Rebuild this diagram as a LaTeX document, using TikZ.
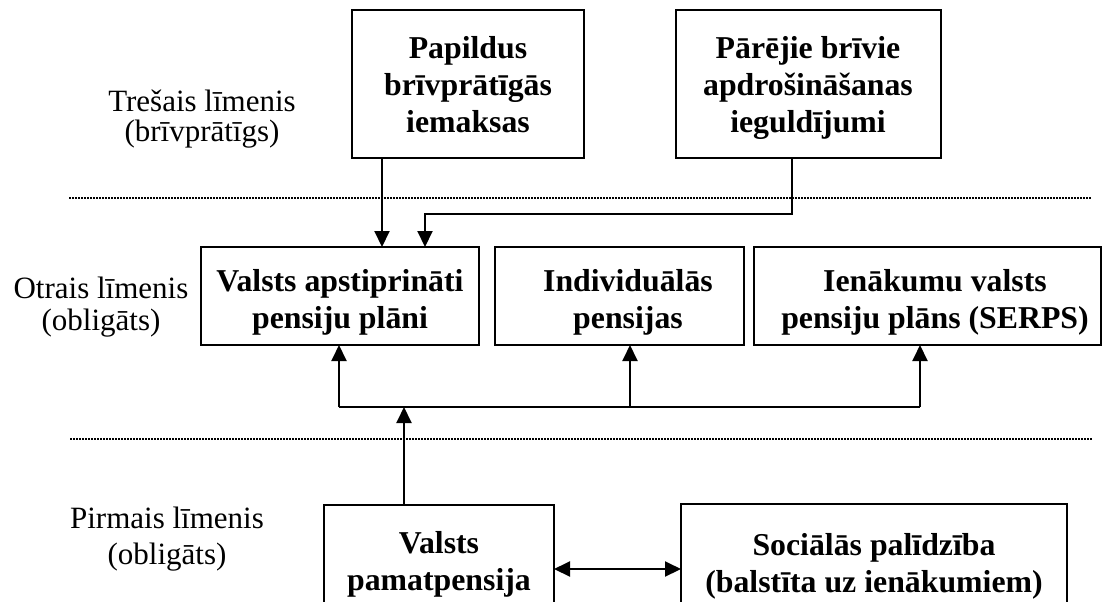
\documentclass[tikz,border=0pt]{standalone}
\usepackage{fontspec}
\setmainfont{Liberation Serif}
\usetikzlibrary{arrows.meta,fit}
\begin{document}
\begin{tikzpicture}[x=0.5pt,y=-0.5pt,
  box/.style={draw, line width=1pt, inner sep=0pt, outer sep=0pt},
  bt/.style={font=\fontsize{15.9}{18}\selectfont\bfseries, anchor=base, inner sep=0pt},
  lt/.style={font=\fontsize{15.5}{18}\selectfont, anchor=base, inner sep=0pt},
  con/.style={line width=1pt},
  arr/.style={con, -{Triangle[width=7.5pt,length=8pt]}},
  darr/.style={con, {Triangle[width=7.5pt,length=8pt]}-{Triangle[width=7.5pt,length=8pt]}},
  sep/.style={line width=0.75pt, dash pattern=on 0.75pt off 0.75pt}]
\useasboundingbox (0,0) rectangle (1103,601);
\clip (0,0) rectangle (1103,601);

% level separators
\coordinate (s1a) at (69,198);  \coordinate (s1b) at (1092,198);
\coordinate (s2a) at (70,439);  \coordinate (s2b) at (1092,439);
\draw[sep] (s1a) -- (s1b);
\draw[sep] (s2a) -- (s2b);

% level captions
\node[lt] (l3a) at (202,111) {Trešais līmenis};
\node[lt] (l3b) at (202,141) {(brīvprātīgs)};
\node[lt] (l2a) at (101,298) {Otrais līmenis};
\node[lt] (l2b) at (101,330) {(obligāts)};
\node[lt] (l1a) at (167,528) {Pirmais līmenis};
\node[lt] (l1b) at (167,564) {(obligāts)};

% third level
\node[box, fit={(352,10) (584,158)}] (pap) {};
\node[bt] (pap1) at (468,58)  {Papildus};
\node[bt] (pap2) at (468,95)  {brīvprātīgās};
\node[bt] (pap3) at (468,132) {iemaksas};

\node[box, fit={(676,10) (941,158)}] (par) {};
\node[bt] (par1) at (808,58)  {Pārējie brīvie};
\node[bt] (par2) at (808,95)  {apdrošināšanas};
\node[bt] (par3) at (808,132) {ieguldījumi};

% second level
\node[box, fit={(201,247) (479,345)}] (vap) {};
\node[bt] (vap1) at (340,291) {Valsts apstiprināti};
\node[bt] (vap2) at (340,328) {pensiju plāni};

\node[box, fit={(495,247) (744,345)}] (ind) {};
\node[bt] (ind1) at (628,291) {Individuālās};
\node[bt] (ind2) at (628,328) {pensijas};

\node[box, fit={(754,247) (1101,345)}] (ien) {};
\node[bt] (ien1) at (935,291) {Ienākumu valsts};
\node[bt] (ien2) at (935,328) {pensiju plāns (SERPS)};

% first level
\node[box, fit={(324,505) (554,640)}] (vpp) {};
\node[bt] (vpp1) at (439,553) {Valsts};
\node[bt] (vpp2) at (439,590) {pamatpensija};

\node[box, fit={(681,504) (1067,640)}] (soc) {};
\node[bt] (soc1) at (874,555) {Sociālās palīdzība};
\node[bt] (soc2) at (874,592) {(balstīta uz ienākumiem)};

% voluntary contributions into approved plans
\coordinate (xa) at (382,0);
\coordinate (xb) at (425,0);
\coordinate (xc) at (792,214);
\draw[arr] (pap.south -| xa) -- (vap.north -| xa);
\draw[arr] (par.south -| xc) -- (xc) -| (vap.north -| xb);

% distribution bus to the second level
\coordinate (j1) at (339,407);
\coordinate (j2) at (630,407);
\coordinate (j3) at (920,407);
\coordinate (j0) at (404,407);
\draw[con] (j1) -- (j3);
\draw[arr] (j1) -- (vap.south -| j1);
\draw[arr] (j2) -- (ind.south -| j2);
\draw[arr] (j3) -- (ien.south -| j3);
\draw[arr] (vpp.north -| j0) -- (j0);

% link between basic pension and social assistance
\coordinate (yd) at (0,569);
\draw[darr] (vpp.east |- yd) -- (soc.west |- yd);
\end{tikzpicture}
\end{document}
